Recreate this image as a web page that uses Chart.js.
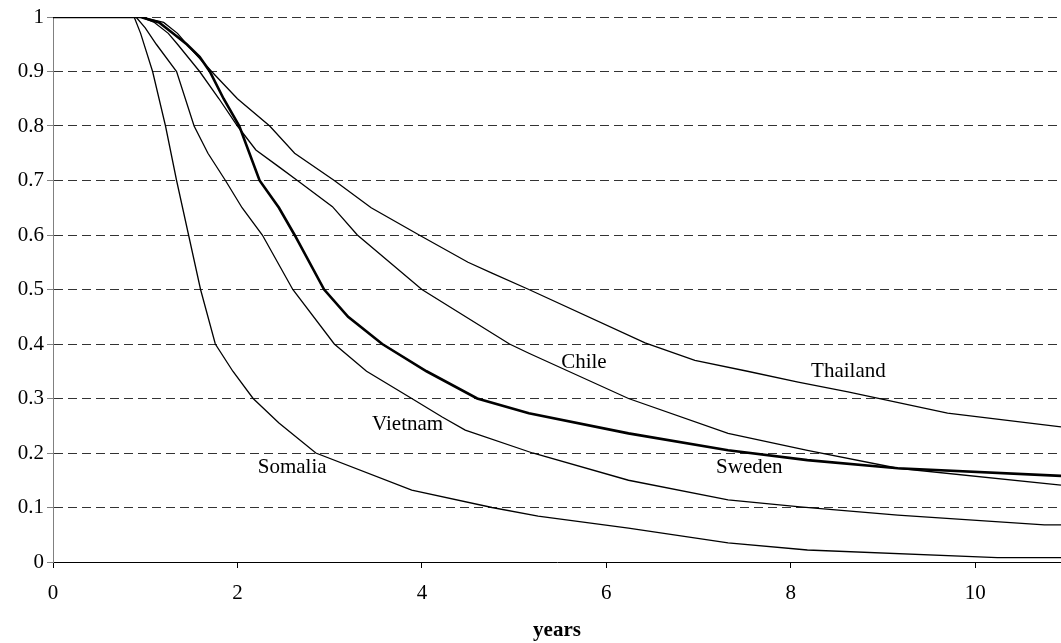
<!DOCTYPE html>
<html>
<head>
<meta charset="utf-8">
<script src="https://cdn.jsdelivr.net/npm/chart.js@4.4.1/dist/chart.umd.min.js"></script>
<style>
  html, body { margin: 0; padding: 0; background: #fff; }
  #wrap { width: 1061px; height: 643px; }
</style>
</head>
<body>
<div id="wrap"><canvas id="chart" width="1061" height="643"></canvas></div>
<script>
// survival curves (years, share remaining)
const swedenYears = [0, 0.95, 1.15, 1.3, 1.45, 1.59, 1.7, 1.85, 2.02, 2.24, 2.45, 2.62, 2.94, 3.2, 3.57, 4.05, 4.6, 5.16, 6.24, 7.32, 8.18, 9.16, 10.93];
const swedenSurv  = [1, 1, 0.99, 0.97, 0.95, 0.927, 0.9, 0.85, 0.8, 0.7, 0.65, 0.6, 0.5, 0.45, 0.4, 0.35, 0.3, 0.273, 0.236, 0.205, 0.187, 0.172, 0.158];

const thailandYears = [0, 0.95, 1.2, 1.35, 1.45, 1.72, 2.0, 2.35, 2.62, 3.05, 3.45, 3.97, 4.5, 4.76, 5.16, 6.42, 6.96, 7.53, 8.08, 8.62, 9.7, 10.93];
const thailandSurv  = [1, 1, 0.99, 0.97, 0.95, 0.9, 0.85, 0.8, 0.75, 0.7, 0.65, 0.6, 0.55, 0.53, 0.5, 0.402, 0.37, 0.35, 0.33, 0.312, 0.273, 0.248];

const chileYears = [0, 0.95, 1.1, 1.25, 1.35, 1.59, 1.8, 2.0, 2.2, 2.45, 2.65, 3.03, 3.3, 4.0, 4.95, 5.16, 6.24, 7.32, 8.18, 9.16, 10.93];
const chileSurv  = [1, 1, 0.99, 0.97, 0.95, 0.9, 0.85, 0.8, 0.756, 0.725, 0.7, 0.652, 0.6, 0.5, 0.4, 0.383, 0.3, 0.236, 0.205, 0.172, 0.141];

const vietnamYears = [0, 0.9, 1.0, 1.12, 1.34, 1.53, 1.68, 1.87, 2.05, 2.27, 2.6, 3.05, 3.4, 3.89, 4.22, 4.47, 5.2, 6.24, 7.32, 8.1, 9.16, 10.75, 10.93];
const vietnamSurv  = [1, 1, 0.98, 0.95, 0.9, 0.8, 0.75, 0.7, 0.65, 0.6, 0.5, 0.4, 0.35, 0.3, 0.266, 0.242, 0.2, 0.15, 0.114, 0.101, 0.086, 0.068, 0.068];

const somaliaYears = [0, 0.88, 0.95, 1.08, 1.22, 1.34, 1.47, 1.6, 1.76, 1.95, 2.17, 2.45, 2.85, 3.89, 4.76, 5.26, 6.24, 7.32, 8.18, 10.24, 10.93];
const somaliaSurv  = [1, 1, 0.97, 0.9, 0.8, 0.7, 0.6, 0.5, 0.4, 0.35, 0.3, 0.255, 0.2, 0.132, 0.1, 0.084, 0.062, 0.035, 0.022, 0.008, 0.008];

// curve names written next to the lines (left edge in years, middle in share)
const labelNames = ['Chile', 'Thailand', 'Sweden', 'Vietnam', 'Somalia'];
const labelYears = [5.51, 8.22, 7.19, 3.46, 2.22];
const labelSurv  = [0.367, 0.349, 0.174, 0.253, 0.174];

const xTicks = [0, 2, 4, 6, 8, 10];

function pts(xs, ys) {
  return xs.map((x, i) => ({ x: x, y: ys[i] }));
}

const serif = '"Liberation Serif", "Times New Roman", serif';

const curveLabels = {
  id: 'curveLabels',
  afterDatasetsDraw(chart) {
    const ctx = chart.ctx;
    const xs = chart.scales.x, ys = chart.scales.y;
    ctx.save();
    ctx.font = '21px ' + serif;
    ctx.fillStyle = '#000';
    ctx.textAlign = 'left';
    ctx.textBaseline = 'middle';
    labelNames.forEach((name, i) => {
      ctx.fillText(name, xs.getPixelForValue(labelYears[i]), ys.getPixelForValue(labelSurv[i]));
    });
    ctx.restore();
  }
};

function line(label, data, width) {
  return {
    label: label,
    data: data,
    borderColor: '#000',
    borderWidth: width,
    pointRadius: 0,
    tension: 0,
    fill: false
  };
}

new Chart(document.getElementById('chart'), {
  type: 'line',
  data: {
    datasets: [
      line('Thailand', pts(thailandYears, thailandSurv), 1.3),
      line('Chile', pts(chileYears, chileSurv), 1.3),
      line('Vietnam', pts(vietnamYears, vietnamSurv), 1.3),
      line('Somalia', pts(somaliaYears, somaliaSurv), 1.3),
      line('Sweden', pts(swedenYears, swedenSurv), 2.6)
    ]
  },
  options: {
    responsive: false,
    animation: false,
    layout: { padding: { top: 17, right: 0, left: 0, bottom: 0 } },
    plugins: { legend: { display: false }, tooltip: { enabled: false } },
    scales: {
      x: {
        type: 'linear',
        min: 0,
        max: 10.93,
        afterFit(scale) { scale.height = 81; },
        afterBuildTicks(scale) { scale.ticks = xTicks.map(v => ({ value: v })); },
        ticks: { font: { family: serif, size: 21 }, color: '#000', padding: 13, maxRotation: 0 },
        grid: { drawOnChartArea: false, drawTicks: true, tickLength: 6, tickColor: '#000' },
        border: { color: '#000', width: 1 },
        title: { display: true, text: 'years', color: '#000', font: { family: serif, size: 21, weight: 'bold' }, padding: { top: 0, bottom: 0 } }
      },
      y: {
        min: 0,
        max: 1,
        afterFit(scale) { scale.width = 53; },
        ticks: {
          stepSize: 0.1,
          font: { family: serif, size: 21 },
          color: '#000',
          padding: 3,
          callback: v => String(+v.toFixed(1))
        },
        grid: { color: '#333', lineWidth: 1, drawTicks: true, tickLength: 6, tickColor: '#808080' },
        border: { color: '#808080', width: 1, dash: [9, 5] }
      }
    }
  },
  plugins: [curveLabels]
});
</script>
</body>
</html>
